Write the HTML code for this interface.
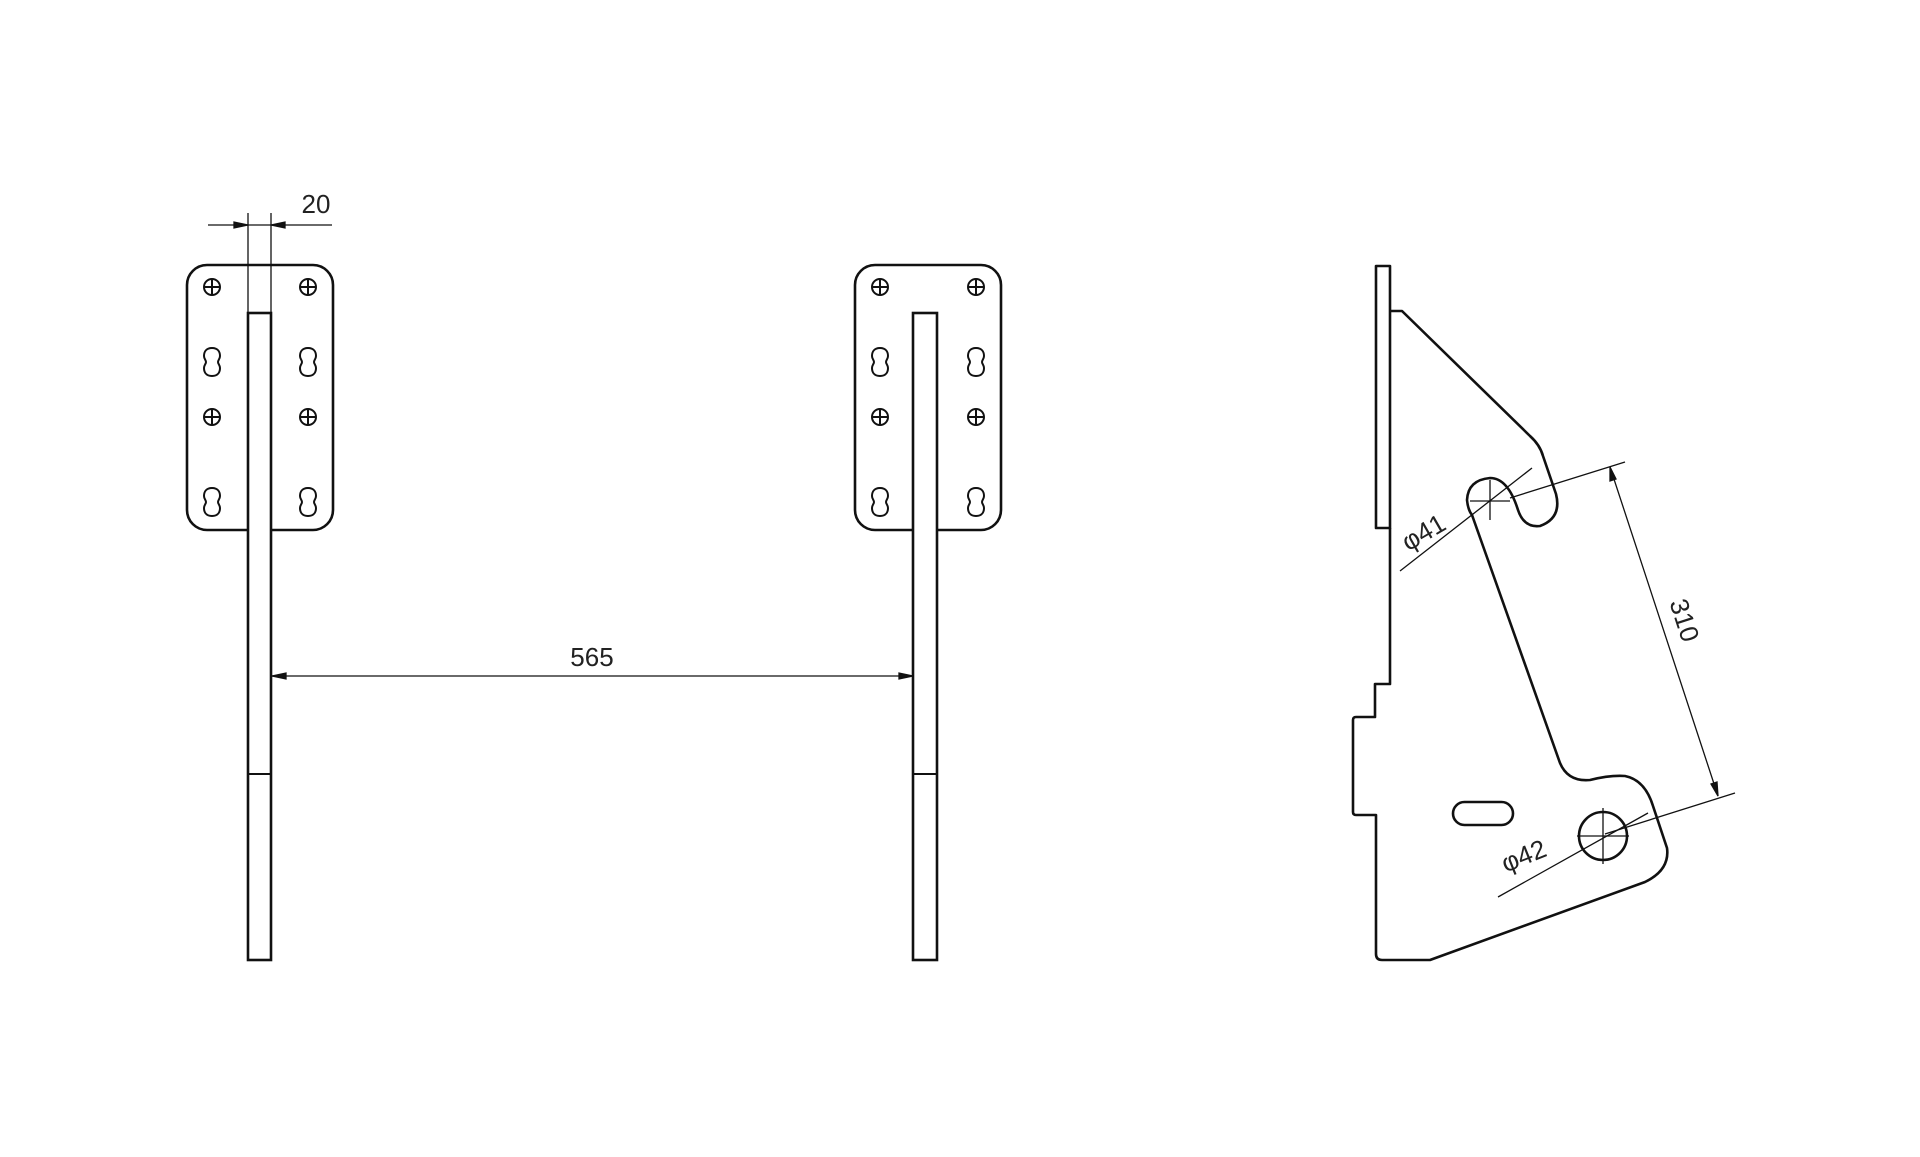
<!DOCTYPE html>
<html><head><style>html,body{margin:0;padding:0;background:#fff}</style></head>
<body>
<svg width="1920" height="1152" viewBox="0 0 1920 1152" xmlns="http://www.w3.org/2000/svg">
<defs>
<g id="plate" fill="none" stroke="#111" stroke-width="2.6">
  <rect x="0" y="0" width="146" height="265" rx="20"/>
  <g stroke-width="2">
    <circle cx="25" cy="22" r="8"/><path d="M17 22h16M25 14v16"/>
    <circle cx="121" cy="22" r="8"/><path d="M113 22h16M121 14v16"/>
    <circle cx="25" cy="152" r="8"/><path d="M17 152h16M25 144v16"/>
    <circle cx="121" cy="152" r="8"/><path d="M113 152h16M121 144v16"/>
    <path id="s8" d="M25 83 c-6 0 -8 4 -8 8 c0 3 2 4 2 6 c0 2 -2 3 -2 6 c0 4 2 8 8 8 c6 0 8 -4 8 -8 c0 -3 -2 -4 -2 -6 c0 -2 2 -3 2 -6 c0 -4 -2 -8 -8 -8z"/>
    <use href="#s8" x="96"/>
    <use href="#s8" y="140"/>
    <use href="#s8" x="96" y="140"/>
  </g>
</g>
</defs>
<!-- left -->
<use href="#plate" x="187" y="265"/>
<rect x="248" y="313" width="23" height="647" fill="#fff" stroke="#111" stroke-width="2.6"/>
<line x1="248" y1="774" x2="271" y2="774" stroke="#111" stroke-width="2"/>
<g stroke="#111" stroke-width="1.3">
<line x1="248" y1="213" x2="248" y2="313"/><line x1="271" y1="213" x2="271" y2="313"/>
<line x1="208" y1="225" x2="332" y2="225"/>
<path d="M248 225l-14 -3v6z M271 225l14 -3v6z" fill="#111"/>
</g>
<text x="316" y="213" font-family="Liberation Sans, sans-serif" font-size="26" text-anchor="middle" fill="#222">20</text>
<!-- right -->
<use href="#plate" x="855" y="265"/>
<rect x="913" y="313" width="24" height="647" fill="#fff" stroke="#111" stroke-width="2.6"/>
<line x1="913" y1="774" x2="937" y2="774" stroke="#111" stroke-width="2"/>
<g stroke="#111" stroke-width="1.3">
<line x1="272" y1="676" x2="913" y2="676"/>
<path d="M272 676l14 -3v6z M913 676l-14 -3v6z" fill="#111"/>
</g>
<text x="592" y="666" font-family="Liberation Sans, sans-serif" font-size="26" text-anchor="middle" fill="#222">565</text>
<!-- side view -->
<g fill="none" stroke="#111" stroke-width="2.6" stroke-linejoin="round">
<rect x="1376" y="266" width="14" height="262"/>
<path d="M1390 311 L1402 311 L1530 436 Q1540 445 1543 456 L1556 494 Q1562 518 1540 526 Q1524 528 1518 510 Q1508 478 1490 478 Q1468 480 1467 500 Q1468 510 1472 515 L1560 763 Q1568 782 1590 780 Q1610 775 1625 776 Q1645 780 1653 806 L1667 848 Q1670 870 1645 882 L1430 960 L1382 960 Q1376 960 1376 954 L1376 815 L1356 815 Q1353 815 1353 812 L1353 720 Q1353 717 1356 717 L1375 717 L1375 684 L1390 684 L1390 528"/>
<rect x="1453" y="802" width="60" height="23" rx="11.5"/>
<circle cx="1603" cy="836" r="24"/>
</g>
<g stroke="#111" stroke-width="1.3">
<path d="M1490 480v40M1470 501h40"/>
<path d="M1603 808v56M1577 836h52"/>
<line x1="1610" y1="467" x2="1718" y2="796"/>
<line x1="1510" y1="498" x2="1625" y2="462"/>
<line x1="1605" y1="834" x2="1735" y2="793"/>
<line x1="1400" y1="571" x2="1532" y2="468"/>
<line x1="1498" y1="897" x2="1648" y2="813"/>
<path d="M1610 467l0 14 6-2z M1718 796l-1-14-6 2z" fill="#111"/>
</g>
<text transform="translate(1676,623) rotate(72)" font-family="Liberation Sans, sans-serif" font-size="26" text-anchor="middle" fill="#222">310</text>
<text transform="translate(1428,540) rotate(-30)" font-family="Liberation Sans, DejaVu Sans, sans-serif" font-size="26" text-anchor="middle" fill="#222">φ41</text>
<text transform="translate(1527,864) rotate(-22)" font-family="Liberation Sans, DejaVu Sans, sans-serif" font-size="26" text-anchor="middle" fill="#222">φ42</text>
</svg>
</body></html>
